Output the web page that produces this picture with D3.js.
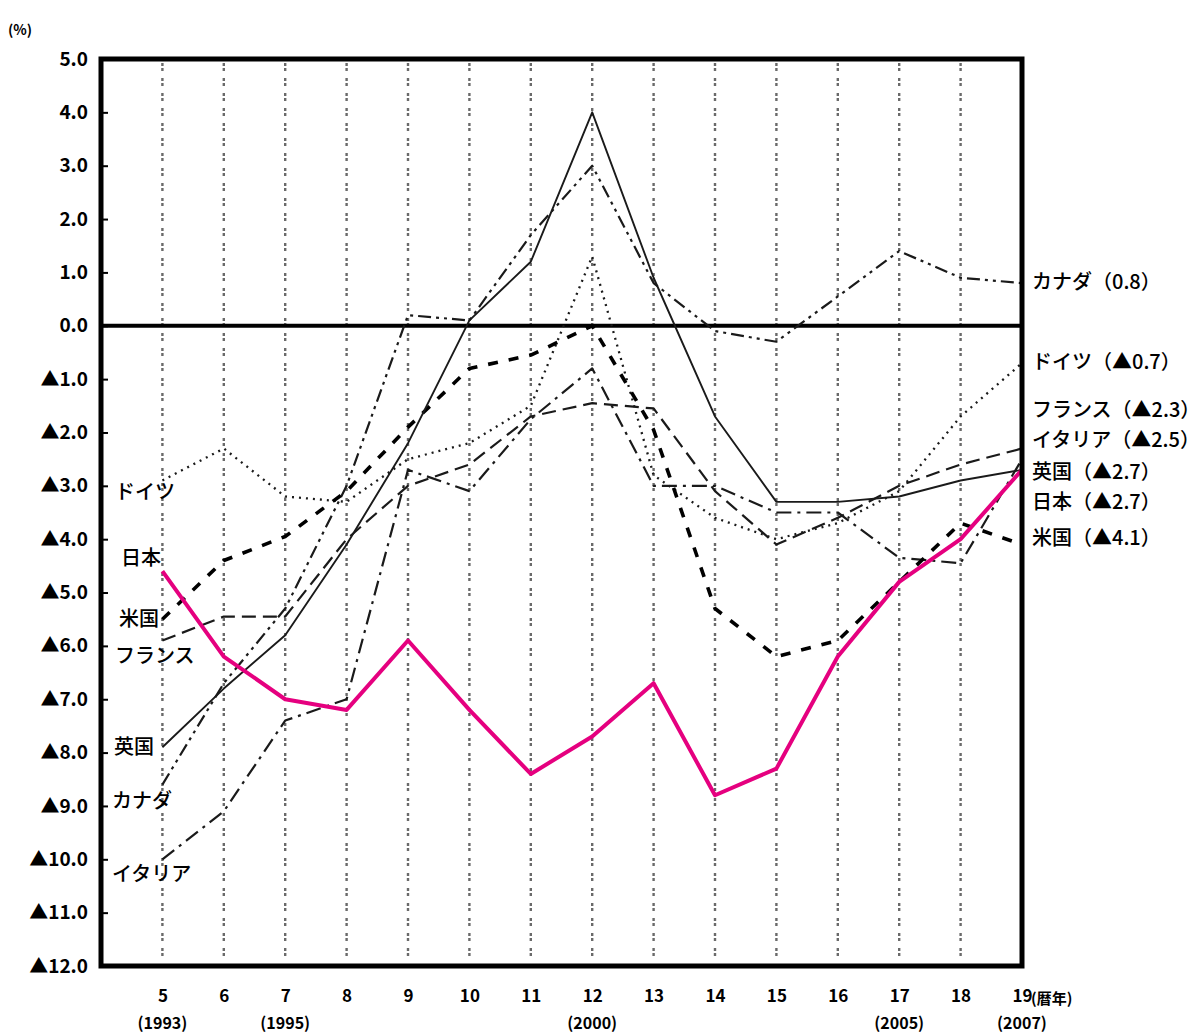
<!DOCTYPE html>
<html>
<head>
<meta charset="utf-8">
<script src="https://cdn.jsdelivr.net/npm/d3@7"></script>
<style>
  html, body { margin: 0; padding: 0; background: #fff; }
  svg { display: block; }
  text { font-family: "Noto Sans CJK JP", "Noto Sans", sans-serif; fill: #000; }
</style>
</head>
<body>
<svg id="chart" width="1201" height="1035"></svg>
<script>
// ---- data ----
const years = [5, 6, 7, 8, 9, 10, 11, 12, 13, 14, 15, 16, 17, 18, 19];
const yearLabels = ["5","6","7","8","9","10","11","12","13","14","15","16","17","18","19"];
const yearNotes = ["(1993)","","(1995)","","","","","(2000)","","","","","(2005)","","(2007)"];
const yTicks = [5,4,3,2,1,0,-1,-2,-3,-4,-5,-6,-7,-8,-9,-10,-11,-12];

const japan   = [-4.6, -6.2, -7.0, -7.2, -5.9, -7.2, -8.4, -7.7, -6.7, -8.8, -8.3, -6.2, -4.8, -4.0, -2.7];
const uk      = [-7.9, -6.8, -5.8, -4.1, -2.2,  0.1,  1.2,  4.0,  0.9, -1.7, -3.3, -3.3, -3.2, -2.9, -2.7];
const germany = [-2.9, -2.3, -3.2, -3.3, -2.5, -2.2, -1.5,  1.3, -2.8, -3.6, -4.0, -3.7, -3.1, -1.7, -0.7];
const us      = [-5.5, -4.4, -3.95,-3.1, -1.9, -0.8, -0.55, 0.0, -1.95,-5.3, -6.2, -5.9, -4.8, -3.7, -4.1];
const france  = [-5.9, -5.45,-5.45,-4.0, -3.0, -2.6, -1.7, -1.45,-1.55,-3.1, -4.1, -3.6, -3.0, -2.6, -2.3];
const italy   = [-10.0,-9.1, -7.4, -7.0, -2.7, -3.1, -1.75,-0.8, -3.0, -3.0, -3.5, -3.5, -4.35,-4.45,-2.5];
const canada  = [-8.6, -6.7, -5.3, -3.0,  0.2,  0.1,  1.7,  3.0,  0.8, -0.1, -0.3,  0.55, 1.4,  0.9,  0.8];

const seriesNames = ["イタリア","カナダ","フランス","ドイツ","米国","英国","日本"];
const seriesValues = [italy, canada, france, germany, us, uk, japan];
const endLabels = ["イタリア（▲2.5）","カナダ（0.8）","フランス（▲2.3）","ドイツ（▲0.7）","米国（▲4.1）","英国（▲2.7）","日本（▲2.7）"];

// ---- styles / layout ----
const styles = {
  "日本":   {stroke: "#e5007f", width: 4, dash: null},
  "英国":   {stroke: "#1a1a1a", width: 1.9, dash: null},
  "ドイツ": {stroke: "#1a1a1a", width: 2.3, dash: "2,5"},
  "米国":   {stroke: "#000", width: 3.6, dash: "10,11"},
  "フランス": {stroke: "#1a1a1a", width: 2.2, dash: "14,7"},
  "イタリア": {stroke: "#1a1a1a", width: 2.2, dash: "15,6,3,6"},
  "カナダ": {stroke: "#1a1a1a", width: 2.2, dash: "13,5,3,5,3,5"}
};
const startLabelPos = {
  "ドイツ": [115, 490], "日本": [121, 556], "米国": [119, 617], "フランス": [115, 654],
  "英国": [114, 745], "カナダ": [112, 799], "イタリア": [112, 872]
};
const endLabelY = {
  "カナダ": 280, "ドイツ": 360, "フランス": 408, "イタリア": 438, "英国": 470, "日本": 500, "米国": 536
};

const svg = d3.select("#chart");
const x = d3.scaleLinear().domain([4, 19]).range([101, 1022]);
const y = d3.scaleLinear().domain([-12, 5]).range([966, 59]);

// vertical dotted grid
svg.append("g").selectAll("line").data(years.filter(v => v < 19)).join("line")
  .attr("x1", d => x(d)).attr("x2", d => x(d))
  .attr("y1", y(5) + 4).attr("y2", y(-12) - 3)
  .attr("stroke", "#6a6a6a").attr("stroke-width", 2.4)
  .attr("stroke-dasharray", "3,2,3,7");

// zero line
svg.append("line")
  .attr("x1", x(4)).attr("x2", x(19)).attr("y1", y(0)).attr("y2", y(0))
  .attr("stroke", "#000").attr("stroke-width", 4);

// y axis (inward ticks + labels)
const fmt = v => (v < 0 ? "▲" : "") + Math.abs(v).toFixed(1);
const yAxis = svg.append("g").attr("transform", `translate(${x(4)},0)`)
  .call(d3.axisLeft(y).tickValues(yTicks).tickSize(-7).tickPadding(13).tickFormat(fmt));
yAxis.select(".domain").remove();
yAxis.selectAll(".tick line").attr("stroke", "#000").attr("stroke-width", 2);
yAxis.selectAll(".tick text").attr("font-size", 19).attr("font-weight", "bold").attr("fill", "#111")
  .attr("font-family", "'Noto Sans CJK JP', sans-serif");

// x axis labels
const xAxis = svg.append("g").attr("transform", `translate(0,${y(-12)})`)
  .call(d3.axisBottom(x).tickValues(years).tickSize(0).tickPadding(24)
    .tickFormat((d, i) => yearLabels[i]));
xAxis.select(".domain").remove();
xAxis.selectAll(".tick text").attr("font-size", 17).attr("font-weight", "bold").attr("fill", "#111")
  .attr("font-family", "'Noto Sans CJK JP', sans-serif");
svg.append("g").selectAll("text").data(years.map((d, i) => [d, yearNotes[i]]).filter(d => d[1])).join("text")
  .attr("x", d => x(d[0])).attr("y", 1029)
  .attr("text-anchor", "middle").attr("font-size", 16).attr("font-weight", "bold").text(d => d[1]);
svg.append("text").attr("x", x(19) + 9).attr("y", 1004).attr("font-size", 15).attr("font-weight", "bold").text("(暦年)");
svg.append("text").attr("x", 8).attr("y", 35).attr("font-size", 14).attr("font-weight", "bold").text("(%)");

// series lines
const line = d3.line().x((d, i) => x(years[i])).y(d => y(d));
seriesNames.forEach((name, k) => {
  const s = styles[name];
  svg.append("path").datum(seriesValues[k])
    .attr("d", line)
    .attr("fill", "none")
    .attr("stroke", s.stroke)
    .attr("stroke-width", s.width)
    .attr("stroke-linejoin", "round")
    .attr("stroke-dasharray", s.dash);
});

// frame
svg.append("rect").attr("x", x(4)).attr("y", y(5)).attr("width", x(19) - x(4)).attr("height", y(-12) - y(5))
  .attr("fill", "none").attr("stroke", "#000").attr("stroke-width", 5);

// start labels
svg.append("g").selectAll("text").data(seriesNames).join("text")
  .attr("x", d => startLabelPos[d][0]).attr("y", d => startLabelPos[d][1])
  .attr("dominant-baseline", "central").attr("font-size", 20).attr("font-weight", "500").text(d => d);

// end labels
svg.append("g").selectAll("text").data(seriesNames).join("text")
  .attr("x", 1032).attr("y", d => endLabelY[d])
  .attr("dominant-baseline", "central").attr("font-size", 20).attr("font-weight", "500")
  .text((d, i) => endLabels[i]);
</script>
</body>
</html>
